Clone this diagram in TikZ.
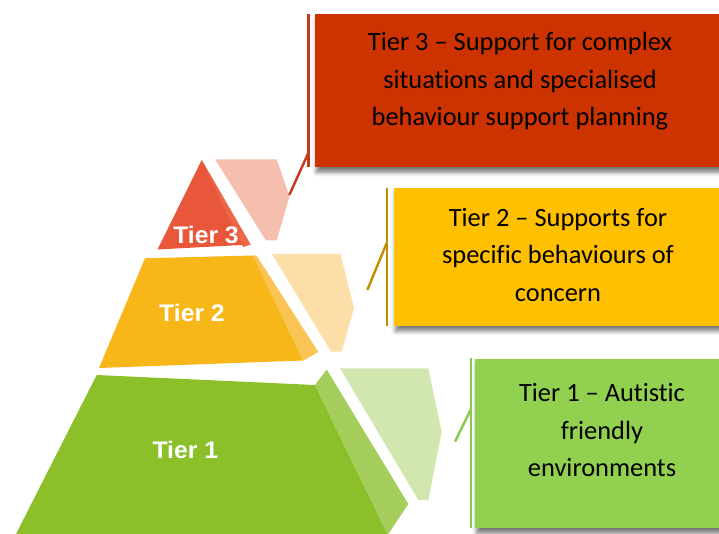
\documentclass[tikz,border=0pt]{standalone}
\usepackage{fontspec}
\setmainfont{Carlito}[Ligatures=NoCommon]
\newfontfamily\tierfont[FakeStretch=1.03]{Liberation Sans}
\usetikzlibrary{shadows.blur}

\definecolor{redbox}{HTML}{CC3300}
\definecolor{goldbox}{HTML}{FFC000}
\definecolor{greenbox}{HTML}{92D050}
\definecolor{redline}{HTML}{C8381A}
\definecolor{goldline}{HTML}{BF8F00}
\definecolor{greenline}{HTML}{86C84C}
\definecolor{tthreefront}{HTML}{E8573A}
\definecolor{tthreeside}{HTML}{EC6649}
\definecolor{tthreeghost}{HTML}{F4BFAF}
\definecolor{ttwofront}{HTML}{F8B718}
\definecolor{ttwoside}{HTML}{F9C454}
\definecolor{ttwoghost}{HTML}{FCDFA8}
\definecolor{tonefront}{HTML}{8CC02A}
\definecolor{toneside}{HTML}{A4CD5B}
\definecolor{toneghost}{HTML}{D2E6B0}

\tikzset{
  infobox/.style={draw=none, rectangle, inner sep=0pt, anchor=north west,
    blur shadow={shadow xshift=1.5pt, shadow yshift=-5pt,
                 shadow blur radius=4.5pt, shadow opacity=55}},
  infotext/.style={align=center, inner sep=0pt, text=black,
    font=\fontsize{26.4}{37.5}\selectfont},
  tierlabel/.style={inner sep=0pt, text=white,
    font=\tierfont\bfseries\fontsize{24}{27}\selectfont},
  leader/.style={line width=2.4pt, line cap=butt}
}

\begin{document}
\begin{tikzpicture}[x=1pt, y=-1pt]
  \useasboundingbox (0,0) rectangle (719,534);
  \clip (0,0) rectangle (719,534);

  % ---- pyramid: front faces, side faces and pale offset facets ----
  % tier 3
  \fill[tthreefront] (201.7,160) -- (157.5,249.5) -- (250.5,244.5) -- cycle;
  \fill[tthreeside] (201.7,160) -- (250.5,244.5) -- (243,247) -- cycle;
  \fill[tthreeghost] (215,159.3) -- (276.7,159.3) -- (289.5,196.5)
    -- (276.7,240.5) -- (266,240.5) -- cycle;
  % tier 2
  \fill[ttwofront] (145,258.3) -- (253,255.5) -- (303.3,360.5) -- (99,368) -- cycle;
  \fill[ttwoside] (253,255.5) -- (256.5,255.5) -- (318.3,352) -- (303.3,360.5) -- cycle;
  \fill[ttwoghost] (272,254) -- (340.5,254) -- (354,308)
    -- (341.7,351.7) -- (331,351.7) -- cycle;
  % tier 1
  \fill[tonefront] (96.7,375) -- (315,385) -- (387.5,534) -- (16,534) -- cycle;
  \fill[toneside] (315,385) -- (326.7,369.5) -- (408.3,504) -- (388.3,534)
    -- (387.5,534) -- cycle;
  \fill[toneghost] (340,368.3) -- (428.3,368.3) -- (441.7,432)
    -- (428.3,500) -- (418.3,500) -- cycle;

  % ---- labels on the pyramid ----
  \node[tierlabel] (lab3) at (206,235) {Tier 3};
  \node[tierlabel] (lab2) at (192,313.3) {Tier 2};
  \node[tierlabel] (lab1) at (185.3,450) {Tier 1};

  % ---- description boxes ----
  \node[infobox, fill=redbox, minimum width=410pt, minimum height=153pt]
    (box3) at (315,14) {};
  \node[infobox, fill=goldbox, minimum width=328pt, minimum height=137.4pt]
    (box2) at (394,188.3) {};
  \node[infobox, fill=greenbox, minimum width=250pt, minimum height=169.7pt]
    (box1) at (475,358.3) {};

  \node[infotext] (txt3) at (520,81.5)
    {Tier 3 – Support for complex\\situations and specialised\\behaviour support planning};
  \node[infotext] (txt2) at (558,255)
    {Tier 2 – Supports for\\specific behaviours of\\concern};
  \node[infotext] (txt1) at (602,430.5)
    {Tier 1 – Autistic\\friendly\\environments};

  % ---- leader lines from the facets to the boxes ----
  \coordinate (r3top) at (308.3,14);
  \coordinate (r3bot) at (308.3,167);
  \coordinate (r3join) at (308.3,153);
  \coordinate (r3tip) at (289.3,195);
  \draw[leader, redline] (r3top) -- (r3bot);
  \draw[leader, redline] (r3tip) -- (r3join);

  \coordinate (r2top) at (386.7,188.3);
  \coordinate (r2bot) at (386.7,325.7);
  \coordinate (r2join) at (386.7,243);
  \coordinate (r2tip) at (367.3,290);
  \draw[leader, goldline] (r2top) -- (r2bot);
  \draw[leader, goldline] (r2tip) -- (r2join);

  \coordinate (r1top) at (471,358.3);
  \coordinate (r1bot) at (471,528);
  \coordinate (r1join) at (471,409);
  \coordinate (r1tip) at (455,441.7);
  \draw[leader, greenline] (r1top) -- (r1bot);
  \draw[leader, greenline] (r1tip) -- (r1join);
\end{tikzpicture}
\end{document}
